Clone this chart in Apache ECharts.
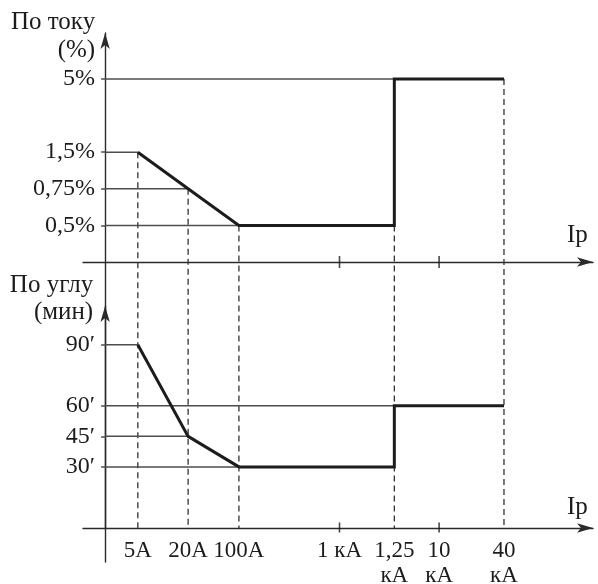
<!DOCTYPE html>
<html>
<head>
<meta charset="utf-8">
<script src="https://cdn.jsdelivr.net/npm/echarts@6/dist/echarts.min.js"></script>
<style>
  html, body { margin: 0; padding: 0; background: #fff; }
  #chart { width: 598px; height: 584px; }
</style>
</head>
<body>
<div id="chart"></div>
<script>
// ---- Ip (current) axis ----
const ipTicks = [5, 20, 100, 1000, 1250, 10000, 40000];
const ipTickLabels = ['5A', '20A', '100A', '1 кА', '1,25\nкА', '10\nкА', '40\nкА'];
// The Ip axis is schematic (not to scale): place of each tick along the axis
const ipScale = [0.65, 1.65, 2.66, 4.66, 5.75, 6.64, 7.93];
// Ticks that cross the Ip axis
const ipCrossTicks = [1000, 10000];
// Currents with a dashed drop line down to the lower Ip axis
const dropCurrents = [5, 20, 100, 1250, 40000];

// ---- Current error limit, % ----
const errCurrent = [5, 20, 100, 1250, 1250, 40000];
const errPercent = [1.5, 0.75, 0.5, 0.5, 5, 5];
const pctTicks = [0.5, 0.75, 1.5, 5];
// schematic step of each percentage on the upper axis
const pctScale = [1, 2, 3, 5];

// ---- Phase angle error limit, minutes ----
const angCurrent = [5, 20, 100, 1250, 1250, 40000];
const angMinutes = [90, 45, 30, 30, 60, 60];
const minTicks = [30, 45, 60, 90];

// ---- layout ----
const FONT = "'Liberation Serif','DejaVu Serif','Times New Roman',serif";
const INK = '#1c1c1c';
const THIN = '#4d4d4d';
const LAY = {
  left: 83, right: 5,
  top: 33,        // tip of the upper vertical arrow
  midY: 262,      // upper Ip axis
  lowTop: 306,    // tip of the lower vertical arrow
  lowY: 528,      // lower Ip axis
  end: 562,       // foot of the vertical axis
  stepPx: 36.6,   // height of one percentage step
  axisX: 105      // vertical axis
};
const X_MIN = -0.44, X_MAX = 9.7;
const MIN_MAX = 109;
// y labels end 10px left of the vertical axis (labels are placed from the grid edge)
const Y_LABEL_MARGIN = 10 - (LAY.axisX - LAY.left);

const topMax = (LAY.midY - LAY.top) / LAY.stepPx;
const topMin = -(LAY.end - LAY.midY) / LAY.stepPx;
const dropFoot = -(LAY.lowY - LAY.midY) / LAY.stepPx;

function interp(v, xs, ys, useLog) {
  const f = useLog ? Math.log10 : (t) => t;
  for (let i = 0; i < xs.length - 1; i++) {
    if (v <= xs[i + 1] || i === xs.length - 2) {
      const t = (f(v) - f(xs[i])) / (f(xs[i + 1]) - f(xs[i]));
      return ys[i] + t * (ys[i + 1] - ys[i]);
    }
  }
  return ys[0];
}
const toX = (a) => interp(a, ipTicks, ipScale, true);
const toStep = (p) => interp(p, [0].concat(pctTicks), [0].concat(pctScale), false);

const pctLabel = (p) => String(p).replace('.', ',') + '%';
function nearestIndex(v, arr) {
  let best = 0;
  arr.forEach((a, i) => { if (Math.abs(a - v) < Math.abs(arr[best] - v)) best = i; });
  return best;
}

// thin level line from the vertical axis to where the curve first reaches that level
function levelLines(levels, xs, ys, mapY, xi, yi) {
  return levels.map((lv) => {
    const i = ys.indexOf(lv);
    return {
      type: 'line', xAxisIndex: xi, yAxisIndex: yi, symbol: 'none', silent: true, z: 3,
      lineStyle: { color: THIN, width: 1.5 },
      data: [[0, mapY(lv)], [toX(xs[i]), mapY(lv)]]
    };
  });
}

const series = [];

// dashed drop lines (upper grid coordinates, running down to the lower Ip axis)
dropCurrents.forEach((a) => {
  const vals = errPercent.filter((_, i) => errCurrent[i] === a);
  const from = Math.min.apply(null, vals);
  series.push({
    type: 'line', xAxisIndex: 0, yAxisIndex: 0, symbol: 'none', silent: true, z: 2,
    lineStyle: { color: '#333', width: 1.3, type: [6, 4] },
    data: [[toX(a), toStep(from)], [toX(a), dropFoot]]
  });
});

series.push(...levelLines(pctTicks, errCurrent, errPercent, toStep, 0, 0));
series.push(...levelLines(minTicks, angCurrent, angMinutes, (v) => v, 1, 1));

series.push({
  type: 'line', xAxisIndex: 0, yAxisIndex: 0, symbol: 'none', silent: true, z: 5,
  lineStyle: { color: INK, width: 3, join: 'miter' },
  data: errCurrent.map((a, i) => [toX(a), toStep(errPercent[i])])
});
series.push({
  type: 'line', xAxisIndex: 1, yAxisIndex: 1, symbol: 'none', silent: true, z: 5,
  lineStyle: { color: INK, width: 3, join: 'miter' },
  data: angCurrent.map((a, i) => [toX(a), angMinutes[i]])
});

// ticks crossing both Ip axes
series.push({
  type: 'scatter', xAxisIndex: 0, yAxisIndex: 0, silent: true, z: 6,
  symbol: 'rect', symbolSize: [1.6, 12],
  itemStyle: { color: INK },
  data: ipCrossTicks.map((a) => [toX(a), 0])
});
series.push({
  type: 'scatter', xAxisIndex: 1, yAxisIndex: 1, silent: true, z: 6,
  symbol: 'rect', symbolSize: [1.6, 10], symbolOffset: [0, -0.5],
  itemStyle: { color: INK },
  data: ipCrossTicks.map((a) => [toX(a), 0])
});

const axisLine = {
  show: true, onZero: true,
  symbol: ['none', 'arrow'], symbolSize: [7, 16],
  lineStyle: { color: '#2a2a2a', width: 1.4 }
};
const textBase = { fontFamily: FONT, fontSize: 25, color: INK };
const labelText = Object.assign({}, textBase, { fontSize: 24 });
const ipLabelText = Object.assign({}, textBase, { fontSize: 23 });

const option = {
  animation: false,
  backgroundColor: '#fff',
  grid: [
    { left: LAY.left, right: LAY.right, top: LAY.top, height: LAY.end - LAY.top, outerBoundsMode: 'none', containLabel: false },
    { left: LAY.left, right: LAY.right, top: LAY.lowTop, height: LAY.lowY - LAY.lowTop, outerBoundsMode: 'none', containLabel: false }
  ],
  xAxis: [
    {
      type: 'value', gridIndex: 0, min: X_MIN, max: X_MAX,
      axisLine: axisLine, axisTick: { show: false }, axisLabel: { show: false },
      splitLine: { show: false },
      name: 'Ip', nameLocation: 'end', nameGap: -26,
      nameTextStyle: Object.assign({}, textBase, {
        align: 'left', verticalAlign: 'bottom', lineHeight: 25, padding: [0, 0, 14, 0]
      })
    },
    {
      type: 'value', gridIndex: 1, min: X_MIN, max: X_MAX,
      axisLine: axisLine, axisTick: { show: false },
      splitLine: { show: false },
      axisLabel: Object.assign({}, ipLabelText, {
        customValues: ipTicks.map(toX),
        margin: 10, lineHeight: 25, align: 'center', verticalAlign: 'top',
        formatter: (v) => ipTickLabels[nearestIndex(v, ipScale)]
      }),
      name: 'Ip', nameLocation: 'end', nameGap: -26,
      nameTextStyle: Object.assign({}, textBase, {
        align: 'left', verticalAlign: 'bottom', lineHeight: 25, padding: [0, 0, 8, 0]
      })
    }
  ],
  yAxis: [
    {
      type: 'value', gridIndex: 0, min: topMin, max: topMax,
      axisLine: axisLine,
      splitLine: { show: false },
      axisTick: { show: true, customValues: pctScale, length: 4, lineStyle: { color: THIN, width: 1.5 } },
      axisLabel: Object.assign({}, labelText, {
        customValues: pctScale, margin: Y_LABEL_MARGIN,
        formatter: (v) => pctLabel(pctTicks[nearestIndex(v, pctScale)])
      }),
      name: 'По току\n(%)', nameLocation: 'end', nameGap: 25,
      nameTextStyle: Object.assign({}, textBase, {
        align: 'right', verticalAlign: 'top', lineHeight: 28, padding: [0, 10, 0, 0]
      })
    },
    {
      type: 'value', gridIndex: 1, min: 0, max: MIN_MAX,
      axisLine: axisLine,
      splitLine: { show: false },
      axisTick: { show: true, customValues: minTicks, length: 4, lineStyle: { color: THIN, width: 1.5 } },
      axisLabel: Object.assign({}, labelText, {
        customValues: minTicks, margin: Y_LABEL_MARGIN,
        formatter: (v) => v + '′'
      }),
      name: 'По углу\n(мин)', nameLocation: 'end', nameGap: 34,
      nameTextStyle: Object.assign({}, textBase, {
        align: 'right', verticalAlign: 'top', lineHeight: 27, padding: [0, 12, 0, 0]
      })
    }
  ],
  series: series
};

const chart = echarts.init(document.getElementById('chart'), null, { renderer: 'canvas' });
chart.setOption(option);
</script>
</body>
</html>
